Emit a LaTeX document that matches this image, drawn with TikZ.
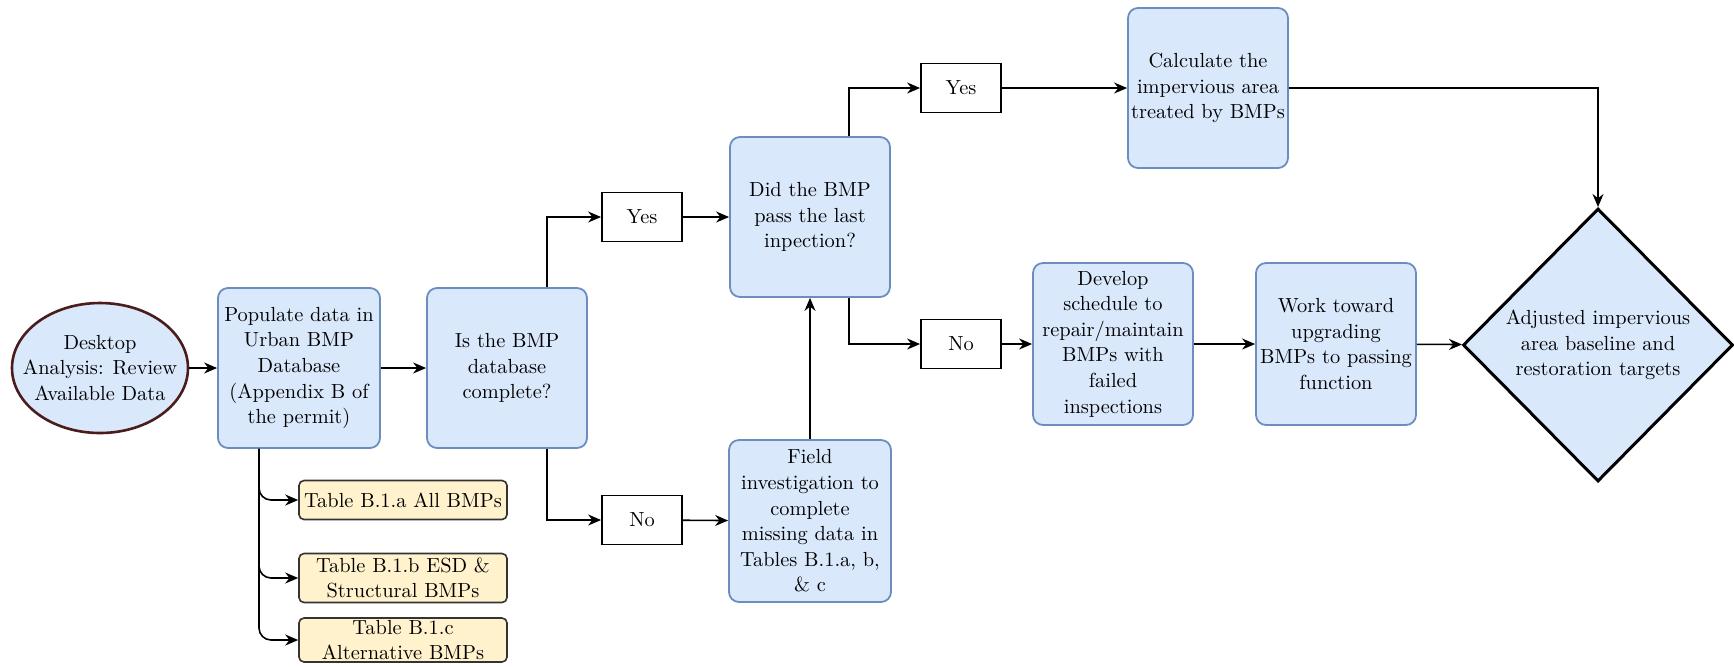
\documentclass[tikz,border=0pt]{standalone}
\usepackage{fontspec}
\usetikzlibrary{shapes.geometric,arrows.meta}
\definecolor{bmpfill}{HTML}{DAE8FC}
\definecolor{bmpline}{HTML}{6C8EBF}
\definecolor{tabfill}{HTML}{FFF2CC}
\definecolor{startline}{HTML}{4A1C1C}

\begin{document}
\begin{tikzpicture}[x=0.5pt, y=-0.5pt,
    font=\rmfamily\fontsize{10.2}{12.8}\selectfont,
    >={Stealth[length=6.5pt, width=5.5pt]},
    every path/.style={line width=0.8pt},
    step box/.style={draw=bmpline, fill=bmpfill, rounded corners=5pt, line width=0.9pt, minimum width=80pt, minimum height=80pt, align=center, inner sep=1pt},
    answer/.style={draw, fill=white, line width=0.9pt, minimum width=40pt, minimum height=24.5pt, inner sep=0pt},
    table box/.style={draw=black!80, fill=tabfill, rounded corners=2.5pt, line width=0.8pt, minimum width=104pt, align=center, inner sep=0pt}]
    \useasboundingbox (0, 0) rectangle (1734, 666);

    \node[draw=startline, fill=bmpfill, ellipse, line width=1.3pt, minimum width=88pt, minimum height=65pt, inner xsep=-10pt, inner ysep=0pt, align=center] (desk) at (100, 368) {Desktop\\Analysis: Review\\Available Data};
    \node[step box, minimum width=81pt] (pop) at (299, 368) {Populate data in\\Urban BMP\\Database\\(Appendix B of\\the permit)};
    \node[step box] (isdb) at (507, 368) {Is the BMP\\database\\complete?};

    \node[answer] (yes1) at (642, 217) {Yes};
    \node[answer] (no1) at (642, 520) {No};

    \node[step box] (did) at (810, 217) {Did the BMP\\pass the last\\inpection?};
    \node[step box, minimum width=81pt, minimum height=81pt] (field) at (810, 521) {Field\\investigation to\\complete\\missing data in\\Tables B.1.a, b,\\\& c};

    \node[answer] (yes2) at (961, 88) {Yes};
    \node[answer] (no2) at (961, 344) {No};

    \node[step box] (calc) at (1208, 88) {Calculate the\\impervious area\\treated by BMPs};
    \node[step box, minimum height=81pt] (devel) at (1113, 344) {Develop\\schedule to\\repair/maintain\\BMPs with\\failed\\inspections};
    \node[step box, minimum height=81pt] (work) at (1336, 344) {Work toward\\upgrading\\BMPs to passing\\function};

    \node[draw, fill=bmpfill, diamond, line width=1.5pt, minimum width=135pt, minimum height=136.5pt, inner sep=1pt, align=center] (adj) at (1598, 345) {Adjusted impervious\\area baseline and\\restoration targets};

    \node[table box, minimum height=19.5pt] (taba) at (403, 500) {Table B.1.a All BMPs};
    \node[table box, minimum height=24.5pt] (tabb) at (403, 578) {Table B.1.b ESD \&\\Structural BMPs};
    \node[table box, minimum height=22pt] (tabc) at (403, 640) {Table B.1.c\\Alternative BMPs};

    \draw[->] (desk) -- (pop);
    \draw[->] (pop) -- (isdb);
    \draw[->, rounded corners=6pt] ([xshift=-20pt]pop.south) |- (taba.west);
    \draw[->, rounded corners=6pt] ([xshift=-20pt]pop.south) |- (tabb.west);
    \draw[->, rounded corners=6pt] ([xshift=-20pt]pop.south) |- (tabc.west);

    \draw[->] ([xshift=20pt]isdb.north) |- (yes1.west);
    \draw[->] ([xshift=20pt]isdb.south) |- (no1.west);
    \draw[->] (yes1) -- (did);
    \draw[->] (no1) -- (field);
    \draw[->] (field) -- (did);

    \draw[->] ([xshift=19.5pt]did.north) |- (yes2.west);
    \draw[->] ([xshift=19.5pt]did.south) |- (no2.west);
    \draw[->] (yes2) -- (calc);
    \draw[->] (no2) -- (devel);
    \draw[->] (devel) -- (work);
    \draw[->] (work) -- (adj);
    \draw[->] (calc.east) -| (adj.north);

\end{tikzpicture}
\end{document}
